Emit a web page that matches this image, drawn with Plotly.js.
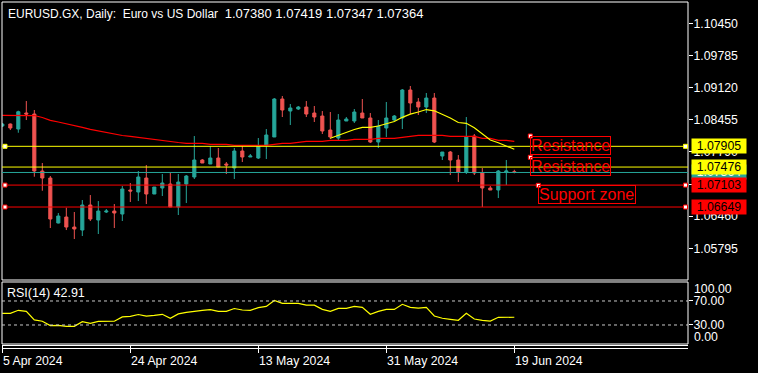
<!DOCTYPE html>
<html>
<head>
<meta charset="utf-8">
<script src="https://cdn.plot.ly/plotly-3.0.1.min.js"></script>
<style>html,body{margin:0;padding:0;background:#000;}#chart{width:758px;height:373px;}</style>
</head>
<body>
<div id="chart"></div>
<script>
// ---------- data ----------
const barIndex = Array.from({length: 65}, (_, i) => i);
const openP = [1.08325,1.08366,1.08263,1.08594,1.08573,1.07394,1.07249,1.06318,1.06442,1.06235,
1.06173,1.06691,1.06380,1.06546,1.06566,1.06504,1.07001,1.06960,1.07249,1.06918,
1.07042,1.07125,1.06649,1.07125,1.07270,1.07622,1.07539,1.07663,1.07539,1.07456,
1.07808,1.07684,1.07663,1.07932,1.08098,1.08884,1.08635,1.08677,1.08718,1.08594,
1.08532,1.08242,1.08077,1.08429,1.08429,1.08594,1.08491,1.07994,1.08284,1.08449,
1.08491,1.09070,1.08822,1.08718,1.08904,1.07704,1.07787,1.07622,1.07373,1.08118,
1.07353,1.07042,1.07001,1.07373,1.07380];
const highP = [1.08387,1.08377,1.08642,1.08842,1.08656,1.07560,1.07291,1.06525,1.06635,1.06546,
1.06794,1.06897,1.06773,1.06608,1.06711,1.07084,1.07146,1.07394,1.07518,1.07063,
1.07332,1.07353,1.07332,1.07311,1.08118,1.07642,1.07911,1.07870,1.07580,1.07870,
1.07911,1.07746,1.08077,1.08263,1.08904,1.08946,1.08780,1.08739,1.08842,1.08739,
1.08635,1.08615,1.08573,1.08511,1.08677,1.08884,1.08594,1.08449,1.08822,1.08553,
1.09091,1.09153,1.08904,1.09008,1.09008,1.07787,1.07808,1.07725,1.08511,1.08160,
1.07456,1.07084,1.07415,1.07622,1.07419];
const lowP = [1.08304,1.08242,1.08186,1.08449,1.07276,1.06986,1.06215,1.06310,1.06173,1.05987,
1.06049,1.06360,1.06091,1.06525,1.06215,1.06360,1.06753,1.06773,1.06711,1.06918,
1.06877,1.06649,1.06484,1.06732,1.07229,1.07560,1.07539,1.07477,1.07332,1.07229,
1.07580,1.07684,1.07642,1.07642,1.08098,1.08511,1.08346,1.08656,1.08511,1.08408,
1.08160,1.08056,1.08035,1.08429,1.08387,1.08491,1.07973,1.07870,1.08098,1.08429,
1.08263,1.08573,1.08553,1.08594,1.07973,1.07622,1.07311,1.07166,1.07332,1.07311,
1.06649,1.07001,1.06835,1.07104,1.07347];
const closeP = [1.08366,1.08284,1.08621,1.08573,1.07394,1.07249,1.06401,1.06463,1.06235,1.06194,
1.06691,1.06401,1.06566,1.06566,1.06525,1.07022,1.06980,1.07270,1.06918,1.07063,
1.07146,1.06649,1.07166,1.07291,1.07622,1.07560,1.07663,1.07477,1.07518,1.07808,
1.07684,1.07704,1.07911,1.08139,1.08884,1.08656,1.08698,1.08718,1.08573,1.08511,
1.08222,1.08098,1.08449,1.08470,1.08615,1.08491,1.07994,1.08325,1.08491,1.08532,
1.09070,1.08801,1.08718,1.08904,1.07994,1.07787,1.07622,1.07373,1.08098,1.07353,
1.07042,1.07001,1.07394,1.07394,1.07364];
const maSlow = [1.08546,1.08546,1.08546,1.08546,1.08542,1.08501,1.08443,1.08408,1.08366,1.08329,
1.08298,1.08257,1.08222,1.08191,1.08160,1.08129,1.08112,1.08089,1.08071,1.08046,
1.08019,1.07998,1.07984,1.07967,1.07967,1.07967,1.07946,1.07946,1.07946,1.07926,
1.07926,1.07926,1.07926,1.07926,1.07946,1.07967,1.07967,1.07988,1.08009,1.08009,
1.08009,1.08029,1.08029,1.08029,1.08050,1.08050,1.08050,1.08071,1.08071,1.08071,
1.08091,1.08112,1.08133,1.08133,1.08133,1.08133,1.08112,1.08112,1.08112,1.08112,
1.08071,1.08071,1.08029,1.08029,1.08009];
const maFast = [null,null,null,null,null,null,null,null,null,null,
null,null,null,null,null,null,null,null,null,null,
null,null,null,null,null,null,null,null,null,null,
null,null,null,null,null,null,null,null,null,null,
null,1.08071,1.08133,1.08184,1.08253,1.08298,1.08298,1.08325,1.08366,1.08418,
1.08505,1.08571,1.08615,1.08666,1.08640,1.08567,1.08491,1.08398,1.08381,1.08288,
1.08153,1.08035,1.07980,1.07917,1.07843];
const rsi = [49.5,49.5,54.5,52.8,38.5,36.2,29,29.5,27.8,27.8,
35.5,32.8,36,36.2,36.2,43.5,44.5,47.5,44.8,46,
47.8,41.2,48.5,51,53,54.5,55.5,52.8,52.8,57.5,
55,54.5,59,61,71,66,66,66,63,63,
56,52.8,57.8,57.8,61,59.5,47.8,52.8,56,56,
64.5,59.5,58,59.5,45,41.2,39.5,37.8,49.5,40,
37.8,36.5,42.8,42.8,42.91];
const priceTicks = [1.10450,1.09785,1.09120,1.08455,1.07790,1.07125,1.06460,1.05795];
const rsiTicks = [30, 70];
const rsiEdgeLabels = [100, 0];
const rsiLevels = [70, 30];
const dateIdx = [0, 16, 32, 48, 64];
const dateLabels = ['5 Apr 2024', '24 Apr 2024', '13 May 2024', '31 May 2024', '19 Jun 2024'];
const bidPrice = 1.07364;
const hLines = [
  {price: 1.07905, color: '#ffff00', handles: true},
  {price: 1.07476, color: '#ffff00', handles: false},
  {price: 1.07103, color: '#ff0000', handles: true},
  {price: 1.06649, color: '#ff0000', handles: true}
];
const textObjs = [
  {text: 'Resistance', x: 66, price: 1.08118, w: 79},
  {text: 'Resistance', x: 66, price: 1.07678, w: 79},
  {text: 'Support zone', x: 67, price: 1.07098, w: 95.5}
];
const titleWords = 'EURUSD.GX, Daily:\u00a0\u00a0Euro vs US Dollar\u00a0\u00a0';
const titleQuote = ['1.07380', '1.07419', '1.07347', '1.07364'];
const rsiTitle = 'RSI(14) 42.91';

// ---------- style ----------
const BULL = '#26a69a', BEAR = '#ef5350';
const FONT = 'Liberation Sans, Arial, sans-serif';
const MAIN_DOM = [0.1871, 1], RSI_DOM = [0, 0.1813];

const traces = [
  {type: 'candlestick', x: barIndex, open: openP, high: highP, low: lowP, close: closeP,
   xaxis: 'x', yaxis: 'y', whiskerwidth: 0,
   increasing: {line: {color: BULL, width: 1}, fillcolor: BULL},
   decreasing: {line: {color: BEAR, width: 1}, fillcolor: BEAR},
   hoverinfo: 'skip'},
  {type: 'scatter', mode: 'lines', x: barIndex, y: maSlow, xaxis: 'x', yaxis: 'y',
   line: {color: '#ff0000', width: 1.2}, hoverinfo: 'skip'},
  {type: 'scatter', mode: 'lines', x: barIndex, y: maFast, xaxis: 'x', yaxis: 'y',
   line: {color: '#ffff00', width: 1.2}, connectgaps: false, hoverinfo: 'skip'},
  {type: 'scatter', mode: 'lines', x: barIndex, y: rsi, xaxis: 'x', yaxis: 'y2',
   line: {color: '#ffff00', width: 1.2}, hoverinfo: 'skip'}
];

const shapes = [];
shapes.push({type: 'rect', xref: 'paper', yref: 'paper', x0: 0, x1: 1, y0: MAIN_DOM[0], y1: MAIN_DOM[1], line: {color: '#fff', width: 1}, layer: 'above'});
shapes.push({type: 'rect', xref: 'paper', yref: 'paper', x0: 0, x1: 1, y0: RSI_DOM[0], y1: RSI_DOM[1], line: {color: '#fff', width: 1}, layer: 'above'});
[-1.5, -4.5].forEach(off => shapes.push({type: 'line', xref: 'paper', x0: 0, x1: 1, yref: 'paper', ysizemode: 'pixel', yanchor: 0, y0: off, y1: off, line: {color: '#fff', width: 1}}));
rsiLevels.forEach(v => shapes.push({type: 'line', xref: 'paper', x0: 0, x1: 1, yref: 'y2', y0: v, y1: v, line: {color: '#c8c8c8', width: 1, dash: '3px,3px'}}));
shapes.push({type: 'line', xref: 'paper', x0: 0, x1: 1, yref: 'y', y0: bidPrice, y1: bidPrice, line: {color: BULL, width: 1}});
hLines.forEach(h => {
  shapes.push({type: 'line', xref: 'paper', x0: 0, x1: 1, yref: 'y', y0: h.price, y1: h.price, line: {color: h.color, width: 1}});
});
hLines.forEach(h => {
  if (!h.handles) return;
  [[0, 1, 5], [1, -4.5, -0.5]].forEach(([anc, a, b]) => shapes.push({
    type: 'rect', xref: 'paper', xsizemode: 'pixel', xanchor: anc, x0: a, x1: b,
    yref: 'y', ysizemode: 'pixel', yanchor: h.price, y0: -2, y1: 2,
    fillcolor: '#fff', line: {color: h.color, width: 1}}));
});

const annotations = [];
textObjs.forEach(t => {
  annotations.push({xref: 'x', yref: 'y', x: t.x, y: t.price, xanchor: 'left', yanchor: 'top',
    text: t.text, showarrow: false, font: {family: FONT, size: 16, color: '#ff0000'},
    bordercolor: '#ff0000', borderwidth: 1, borderpad: 0, width: t.w, height: 17.3, align: 'left'});
  shapes.push({type: 'rect', xref: 'x', xsizemode: 'pixel', xanchor: t.x, x0: -2, x1: 2,
    yref: 'y', ysizemode: 'pixel', yanchor: t.price, y0: -2, y1: 2,
    fillcolor: '#fff', line: {color: '#ff0000', width: 1}});
});
const axisTags = [
  {price: bidPrice, bg: BULL, fg: '#fff'},
  {price: hLines[0].price, bg: '#ffff00', fg: '#000'},
  {price: hLines[1].price, bg: '#ffff00', fg: '#000'},
  {price: hLines[2].price, bg: '#ff0000', fg: '#000'},
  {price: hLines[3].price, bg: '#ff0000', fg: '#000'}
];
axisTags.forEach(a => annotations.push({xref: 'paper', x: 1, xanchor: 'left', xshift: 3,
  yref: 'y', y: a.price, yanchor: 'middle', text: a.price.toFixed(5), showarrow: false,
  bgcolor: a.bg, font: {family: FONT, size: 12.3, color: a.fg}, width: 52, height: 12, borderpad: 1}));
annotations.push({xref: 'paper', yref: 'paper', x: 0, y: 1, xanchor: 'left', yanchor: 'top', xshift: 4, yshift: -2,
  text: '<span style="font-size:12px">' + titleWords + '</span>' + titleQuote.join(' '),
  showarrow: false, font: {family: FONT, size: 13, color: '#fff'}});
annotations.push({xref: 'paper', yref: 'y2 domain', x: 0, y: 1, xanchor: 'left', yanchor: 'top', xshift: 3, yshift: -2,
  text: rsiTitle, showarrow: false, font: {family: FONT, size: 12.5, color: '#fff'}});
rsiEdgeLabels.forEach((v, k) => annotations.push({xref: 'paper', x: 1, xanchor: 'left', xshift: 4,
  yref: 'y2', y: v, yanchor: 'middle', yshift: k === 0 ? -6 : 6, text: v.toFixed(2), showarrow: false,
  font: {family: FONT, size: 12.3, color: '#fff'}}));
dateIdx.forEach((d, k) => annotations.push({xref: 'x', x: d, xanchor: 'left', xshift: -1.5,
  yref: 'paper', y: 0, yanchor: 'middle', yshift: -17, text: dateLabels[k], showarrow: false,
  font: {family: FONT, size: 12.3, color: '#fff'}}));

const layout = {
  width: 758, height: 373,
  paper_bgcolor: '#000', plot_bgcolor: '#000',
  margin: {l: 2, r: 70, t: 2, b: 29, pad: 0},
  showlegend: false, boxgap: 0.45,
  font: {family: FONT, color: '#fff', size: 12},
  xaxis: {range: [-0.04, 85.71], anchor: 'y2', showgrid: false, zeroline: false, showline: false,
    ticks: 'outside', ticklen: 8, tickcolor: '#fff', tickvals: dateIdx, showticklabels: false,
    rangeslider: {visible: false}, fixedrange: true},
  yaxis: {domain: MAIN_DOM, side: 'right', anchor: 'x', range: [1.05139, 1.10891], tickvals: priceTicks,
    tickformat: '.5f', ticks: 'outside', ticklen: 4, tickcolor: '#fff', showgrid: false, zeroline: false,
    showline: false, ticklabelstandoff: -2, tickfont: {family: FONT, size: 12.3, color: '#fff'}},
  yaxis2: {domain: RSI_DOM, side: 'right', anchor: 'x', range: [-1.67, 101.67], tickvals: rsiTicks,
    tickformat: '.2f', ticks: 'outside', ticklen: 4, tickcolor: '#fff', showgrid: false, zeroline: false,
    showline: false, ticklabelstandoff: -2, tickfont: {family: FONT, size: 12.3, color: '#fff'}},
  shapes: shapes, annotations: annotations
};

Plotly.newPlot('chart', traces, layout, {displayModeBar: false, staticPlot: true});
</script>
</body>
</html>
